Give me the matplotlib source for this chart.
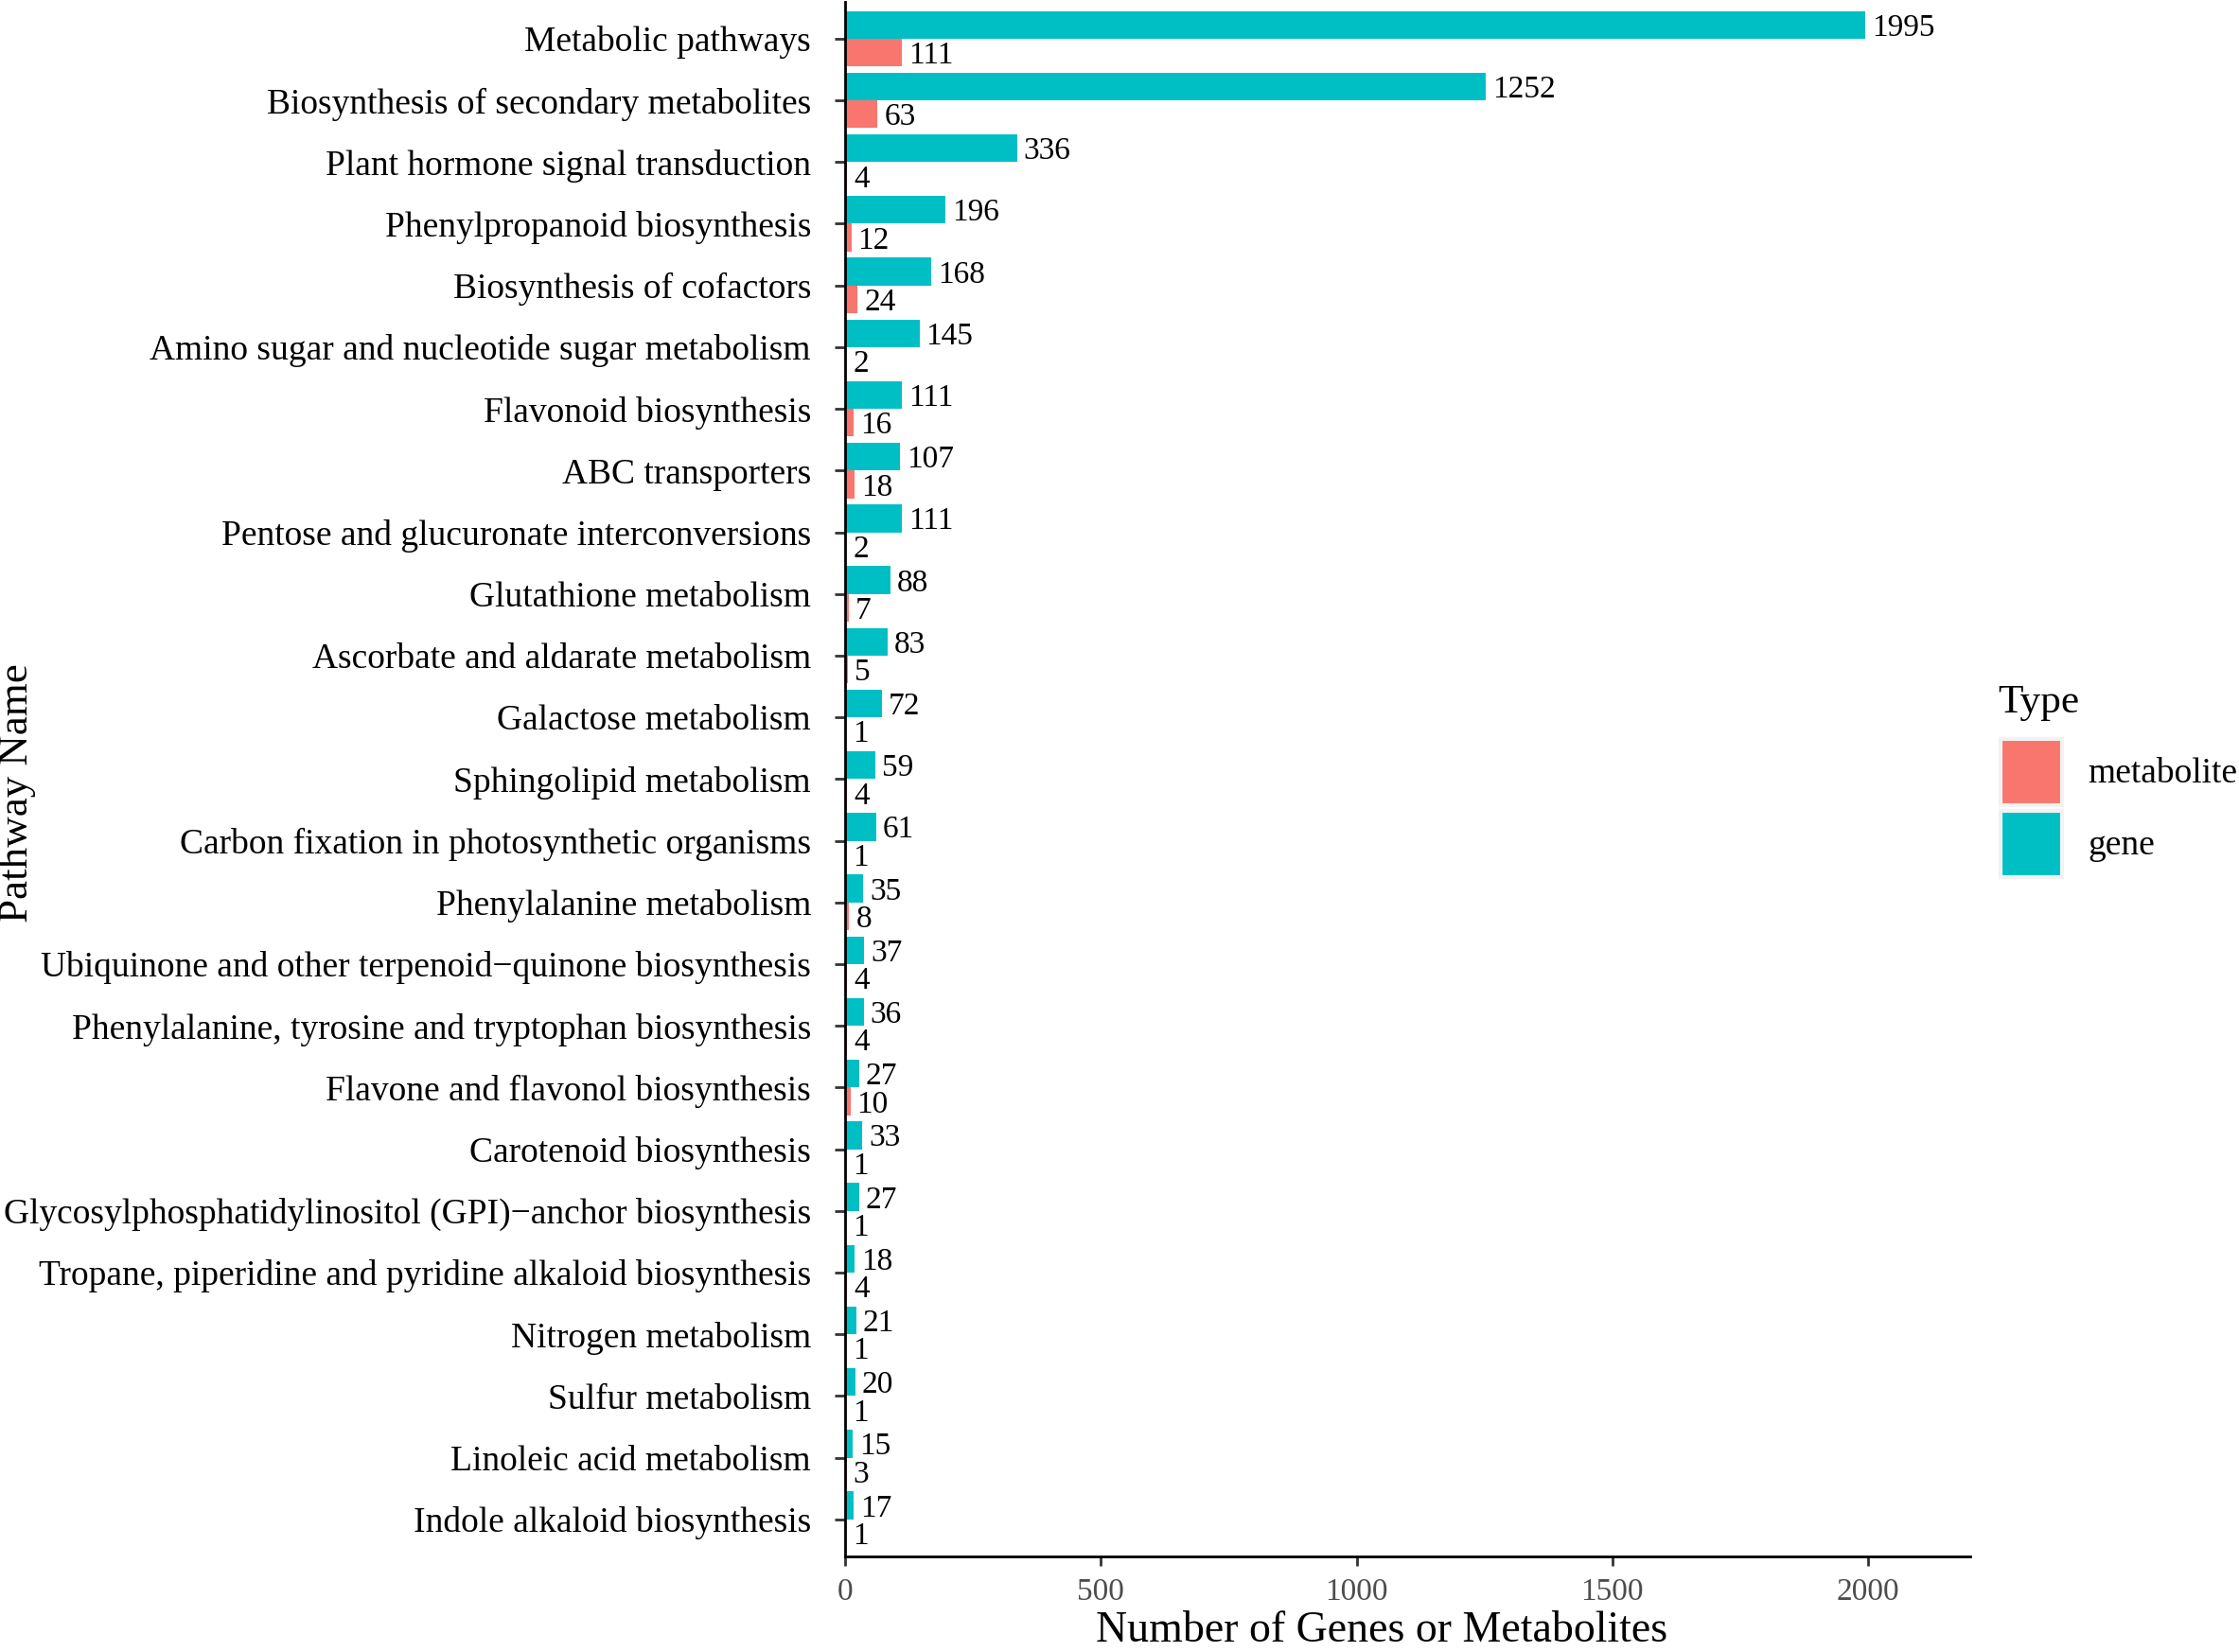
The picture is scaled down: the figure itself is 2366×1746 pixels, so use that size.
import matplotlib
matplotlib.use("Agg")
import matplotlib.pyplot as plt
from matplotlib.patches import Patch
import numpy as np

# pathway data (top to bottom as in the figure)
pathways = [
    "Metabolic pathways",
    "Biosynthesis of secondary metabolites",
    "Plant hormone signal transduction",
    "Phenylpropanoid biosynthesis",
    "Biosynthesis of cofactors",
    "Amino sugar and nucleotide sugar metabolism",
    "Flavonoid biosynthesis",
    "ABC transporters",
    "Pentose and glucuronate interconversions",
    "Glutathione metabolism",
    "Ascorbate and aldarate metabolism",
    "Galactose metabolism",
    "Sphingolipid metabolism",
    "Carbon fixation in photosynthetic organisms",
    "Phenylalanine metabolism",
    "Ubiquinone and other terpenoid\u2212quinone biosynthesis",
    "Phenylalanine, tyrosine and tryptophan biosynthesis",
    "Flavone and flavonol biosynthesis",
    "Carotenoid biosynthesis",
    "Glycosylphosphatidylinositol (GPI)\u2212anchor biosynthesis",
    "Tropane, piperidine and pyridine alkaloid biosynthesis",
    "Nitrogen metabolism",
    "Sulfur metabolism",
    "Linoleic acid metabolism",
    "Indole alkaloid biosynthesis",
]
genes = [1995, 1252, 336, 196, 168, 145, 111, 107, 111, 88, 83, 72, 59, 61,
         35, 37, 36, 27, 33, 27, 18, 21, 20, 15, 17]
metabolites = [111, 63, 4, 12, 24, 2, 16, 18, 2, 7, 5, 1, 4, 1,
               8, 4, 4, 10, 1, 1, 4, 1, 1, 3, 1]

gene_col = "#00BFC4"
met_col = "#F8766D"

plt.rcParams['font.family'] = ['Liberation Serif', 'DejaVu Serif']

fig = plt.figure(figsize=(2366 / 200, 1746 / 200), dpi=200)
ax = fig.add_axes([0.3775, 0.0579, 0.880 - 0.3775, 0.999 - 0.0579])

y = np.arange(len(pathways))
h = 0.45
ax.barh(y - h / 2, genes, height=h, color=gene_col)
ax.barh(y + h / 2, metabolites, height=h, color=met_col)

for yi, g, m in zip(y, genes, metabolites):
    ax.annotate(str(g), (g, yi - h / 2), xytext=(2.5, -1.2), textcoords="offset points",
                ha="left", va="center", fontsize=12)
    ax.annotate(str(m), (m, yi + h / 2), xytext=(2.5, -1.2), textcoords="offset points",
                ha="left", va="center", fontsize=12)

ax.set_xlim(0, 2200)
ax.set_ylim(len(pathways) - 0.4, -0.6)
ax.set_yticks(y)
ax.set_yticklabels(pathways, fontsize=13.5, color="black")
ax.set_xticks([0, 500, 1000, 1500, 2000])
ax.tick_params(axis="x", labelsize=12, labelcolor="#4D4D4D", length=3.5, width=1, color="#333333", pad=4.5)
ax.tick_params(axis="y", length=4, width=1, color="#333333", pad=9)

for s in ["top", "right"]:
    ax.spines[s].set_visible(False)
for s in ["left", "bottom"]:
    ax.spines[s].set_linewidth(1.0)
    ax.spines[s].set_color("black")

fig.text(0.0077, 0.52, "Pathway Name", rotation=90, ha="center", va="center", fontsize=16.2)
fig.text(0.617, 0.0062, "Number of Genes or Metabolites", ha="center", va="baseline", fontsize=16.5)

# legend: title as separate text so the gap matches
fig.text(0.8925, 0.5745, "Type", ha="left", va="center", fontsize=15.6)
handles = [Patch(facecolor=met_col, edgecolor="#F2F2F2", linewidth=1.5, label="metabolite"),
           Patch(facecolor=gene_col, edgecolor="#F2F2F2", linewidth=1.5, label="gene")]
leg = fig.legend(handles=handles, loc="center left", bbox_to_anchor=(0.8855, 0.511),
                 frameon=False, fontsize=13.5, handlelength=1.75,
                 handleheight=2.5, labelspacing=0.15, handletextpad=0.72, borderpad=0)

fig.savefig("out.png", dpi=200)
